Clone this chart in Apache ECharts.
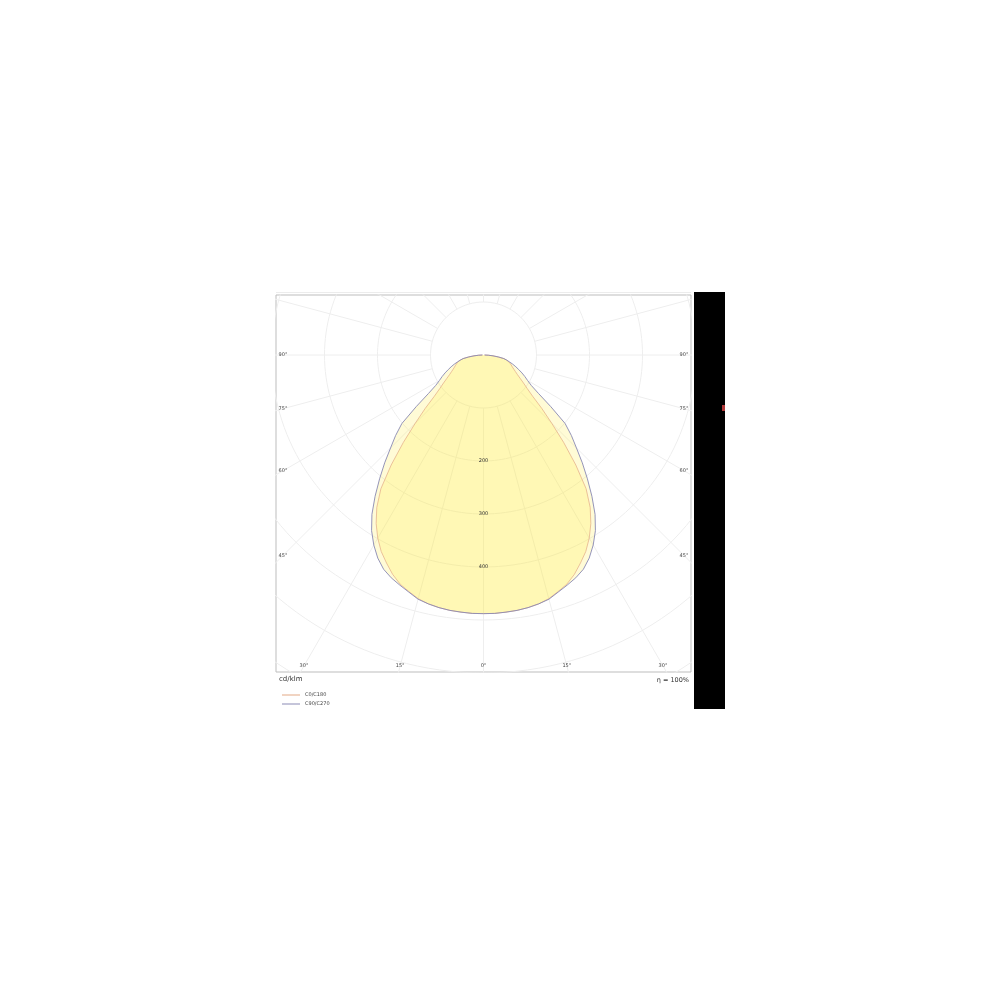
<!DOCTYPE html>
<html>
<head>
<meta charset="utf-8">
<script src="https://cdn.jsdelivr.net/npm/echarts@6/dist/echarts.min.js"></script>
<style>
html,body{margin:0;padding:0;background:#fff;}
#chart{width:1000px;height:1000px;}
</style>
</head>
<body>
<div id="chart"></div>
<script>
// ---------------- data ----------------
const gammaAngles = [0,2.5,5,7.5,10,12.5,15,17.5,20,22.5,25,27.5,30,32.5,35,37.5,40,42.5,45,47.5,50,52.5,55,57.5,60,62.5,65,67.5,70,72.5,75,77.5,80,82.5,85,87.5,90];
const c0c180Values  = [488,488,487,486,484,481,476,468,460,448,433,418,399,377,351,318,271,224,182,149,121,104,92,82,74,68,63,59,56,53,50,45,39,28,18,9,2];
const c90c270Values = [488,488,487,486,484,481,477,469,462,455,446,432,414,393,367,336,305,276,248,225,201,160,127,107,96,88,80,72,65,58,51,45,39,28,18,9,2];
const seriesNames = ['C0/C180', 'C90/C270'];
const circleValues = [100,200,300,400,500,600,700];
const circleLabelValues = [200,300,400];
const radialAngles = [0,15,30,45,60,75,90,105,120,135,150,165,180,195,210,225,240,255,270,285,300,315,330,345];
const angleTickValues = [0,15,30,45,60,75,90];
const unitLabel = 'cd/klm';
const efficiencyLabel = 'η = 100%';

// ---------------- layout ----------------
const S = 0.53;                      // px per cd/klm
const GRID = {left: 276, top: 295, width: 415, height: 377};
const CENTER = [483.5, 355];
const xMin = -(CENTER[0] - GRID.left) / S;
const xMax = (GRID.left + GRID.width - CENTER[0]) / S;
const yMax = (CENTER[1] - GRID.top) / S;
const yMin = -(GRID.top + GRID.height - CENTER[1]) / S;
const lineColors = ['#e2a985', '#8a8ab4'];
const fillColor = 'rgba(255,236,60,0.21)';
const gridColor = '#eeeeee';
const FONT = 'DejaVu Sans';

function pt(g, I) {
  const r = g * Math.PI / 180;
  return [I * Math.sin(r), -I * Math.cos(r)];
}
function curvePoints(vals) {
  const out = [];
  for (let i = gammaAngles.length - 1; i >= 0; i--) out.push(pt(-gammaAngles[i], vals[i]));
  for (let i = 1; i < gammaAngles.length; i++) out.push(pt(gammaAngles[i], vals[i]));
  return out;
}

const series = [];

// grid circles
circleValues.forEach(function (rv) {
  const d = [];
  for (let a = 0; a <= 360; a += 2) d.push(pt(a, rv));
  series.push({type: 'line', data: d, symbol: 'none', silent: true, z: 1,
    lineStyle: {color: gridColor, width: 1}, animation: false});
});
// radial lines
radialAngles.forEach(function (a) {
  series.push({type: 'line', data: [pt(a, circleValues[0]), pt(a, 1200)], symbol: 'none', silent: true, z: 1,
    lineStyle: {color: gridColor, width: 1}, animation: false});
});

// fills
[c0c180Values, c90c270Values].forEach(function (vals) {
  const pts = curvePoints(vals);
  series.push({
    type: 'custom', silent: true, z: 2, animation: false,
    data: pts,
    encode: {x: 0, y: 1},
    renderItem: function (params, api) {
      if (params.dataIndex !== 0) return null;
      return {type: 'polygon', shape: {points: pts.map(function (p) { return api.coord(p); })},
        style: {fill: fillColor, stroke: null}};
    }
  });
});

// curve lines
[c0c180Values, c90c270Values].forEach(function (vals, k) {
  series.push({
    name: seriesNames[k], type: 'line', data: curvePoints(vals), symbol: 'none', z: 3 + k, animation: false,
    itemStyle: {color: lineColors[k]},
    lineStyle: {color: lineColors[k], width: 1, opacity: k === 0 ? 0.7 : 0.9}
  });
});

// radius labels
series.push({
  type: 'custom', silent: true, z: 6, animation: false,
  data: circleLabelValues.map(function (v) { return [0, -v, v]; }),
  encode: {x: 0, y: 1},
  renderItem: function (params, api) {
    const c = api.coord([api.value(0), api.value(1)]);
    return {type: 'text', x: c[0], y: c[1],
      style: {text: String(api.value(2)), fill: '#333', font: '5px "' + FONT + '"', align: 'center', verticalAlign: 'middle'}};
  }
});

// angle labels on the inner border of the box
const insetX = 7 / S, insetY = 6 / S;
const angleLabelData = [];
angleTickValues.forEach(function (g) {
  const sides = g === 0 ? [1] : [-1, 1];
  sides.forEach(function (s) {
    const r = g * Math.PI / 180;
    const dx = s * Math.sin(r), dy = -Math.cos(r);
    let t = Infinity;
    if (Math.abs(dx) > 1e-9) t = Math.min(t, (s > 0 ? (xMax - insetX) : (-xMin - insetX)) / Math.abs(dx));
    if (Math.abs(dy) > 1e-9) t = Math.min(t, (-yMin - insetY) / Math.abs(dy));
    angleLabelData.push([t * dx, t * dy, g]);
  });
});
series.push({
  type: 'custom', silent: true, z: 6, animation: false, clip: false,
  data: angleLabelData,
  encode: {x: 0, y: 1},
  renderItem: function (params, api) {
    const c = api.coord([api.value(0), api.value(1)]);
    return {type: 'text', x: c[0], y: c[1],
      style: {text: api.value(2) + '°', fill: '#444', font: '5px "' + FONT + '"', align: 'center', verticalAlign: 'middle'}};
  }
});

const chart = echarts.init(document.getElementById('chart'), null, {renderer: 'canvas'});
chart.setOption({
  backgroundColor: '#fff',
  animation: false,
  grid: {left: GRID.left, top: GRID.top, width: GRID.width, height: GRID.height,
    show: true, borderColor: '#bdbdbd', borderWidth: 1, backgroundColor: '#fff'},
  xAxis: {type: 'value', min: xMin, max: xMax, show: false},
  yAxis: {type: 'value', min: yMin, max: yMax, show: false},
  legend: {
    data: seriesNames, orient: 'vertical', left: 282, top: 692.5, padding: 0, icon: 'rect',
    itemWidth: 18, itemHeight: 1, itemGap: 4, selectedMode: false,
    textStyle: {fontSize: 5, color: '#444', fontFamily: FONT}
  },
  graphic: [
    {type: 'line', shape: {x1: 276, y1: 292.5, x2: 691, y2: 292.5}, style: {stroke: '#ececec', lineWidth: 1}},
    {type: 'text', left: 279, top: 676, style: {text: unitLabel, fill: '#333', font: '7px "' + FONT + '"'}},
    {type: 'text', right: 1000 - 689, top: 677, style: {text: efficiencyLabel, fill: '#333', font: '6.5px "' + FONT + '"'}},
    {type: 'rect', shape: {x: 694, y: 292, width: 31, height: 417}, style: {fill: '#000'}, z: 100},
    {type: 'rect', shape: {x: 722, y: 405, width: 3, height: 6}, style: {fill: '#b03838'}, z: 101}
  ],
  series: series
});
</script>
</body>
</html>
